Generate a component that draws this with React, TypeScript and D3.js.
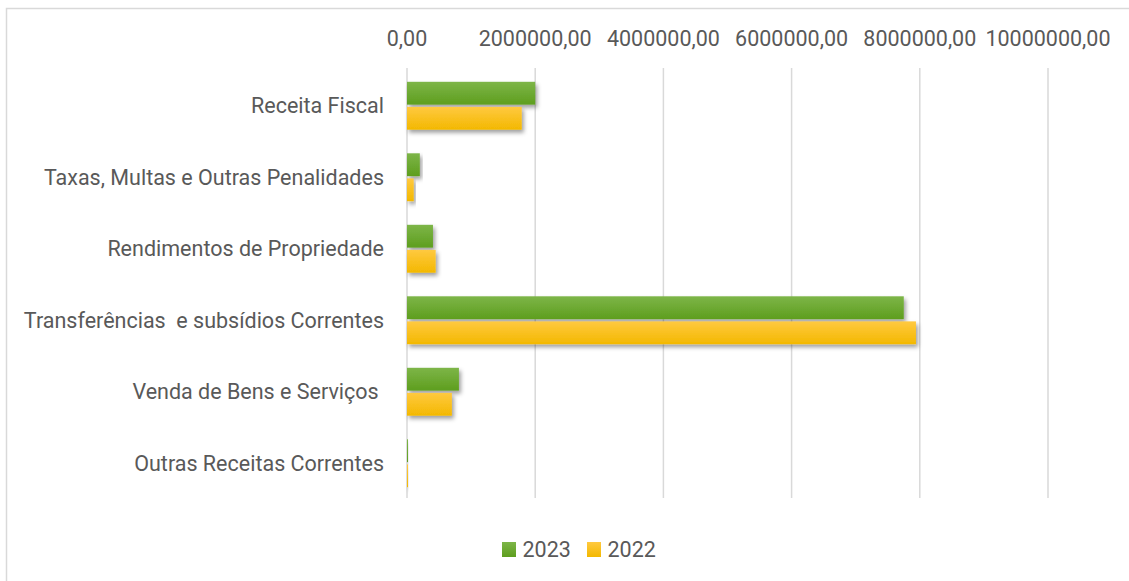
import React from "react";
import * as d3 from "d3";

const categories = [
  "Receita Fiscal",
  "Taxas, Multas e Outras Penalidades",
  "Rendimentos de Propriedade",
  "Transferências  e subsídios Correntes",
  "Venda de Bens e Serviços ",
  "Outras Receitas Correntes",
];
const series = ["2023", "2022"];
const values2023 = [2000000, 200000, 405000, 7750000, 810000, 12000];
const values2022 = [1790000, 105000, 447000, 7940000, 700000, 8000];
const xTicks = [0, 2000000, 4000000, 6000000, 8000000, 10000000];

const W = 1129;
const H = 581;

export default function App() {
  const x = d3.scaleLinear().domain([0, 10000000]).range([407, 1048]);
  const y = d3
    .scaleBand<string>()
    .domain(categories)
    .range([70, 499])
    .paddingInner(0.33)
    .paddingOuter(0.165);
  const sub = d3.scaleBand<string>().domain(series).range([0, y.bandwidth()]).paddingInner(0.09);
  const data = [values2023, values2022];
  const grads = ["gGreen", "gYellow"];
  const font = "Roboto, 'Open Sans', sans-serif";
  const fs = 21.5;
  const fmt = (v: number) => v.toFixed(2).replace(".", ",");

  return (
    <svg
      width={W}
      height={H}
      style={{ position: "absolute", left: 0, top: 0, background: "#fff" }}
      fontFamily={font}
    >
      <defs>
        <linearGradient id="gGreen" x1="0" y1="0" x2="0" y2="1">
          <stop offset="0" stopColor="#7db548" />
          <stop offset="1" stopColor="#5e9e1e" />
        </linearGradient>
        <linearGradient id="gYellow" x1="0" y1="0" x2="0" y2="1">
          <stop offset="0" stopColor="#ffc940" />
          <stop offset="1" stopColor="#f3b800" />
        </linearGradient>
        <filter id="shadow" x="-10%" y="-30%" width="130%" height="180%">
          <feDropShadow dx="2" dy="3" stdDeviation="2.2" floodColor="#000" floodOpacity="0.38" />
        </filter>
      </defs>
      <rect x={6.5} y={8.5} width={W + 10} height={H + 10} fill="#fff" stroke="#d9d9d9" strokeWidth={1.5} />
      {xTicks.map((t) => (
        <g key={t}>
          <line x1={x(t)} x2={x(t)} y1={68} y2={498} stroke="#d9d9d9" strokeWidth={1.5} />
          <text x={x(t)} y={46} textAnchor="middle" fontSize={fs} fill="#595959">
            {fmt(t)}
          </text>
        </g>
      ))}
      {categories.map((c, i) => (
        <g key={c}>
          <text
            x={384}
            y={(y(c) as number) + y.bandwidth() / 2}
            dy="0.35em"
            textAnchor="end"
            fontSize={fs}
            fill="#595959"
            style={{ whiteSpace: "pre" }}
          >
            {c}
          </text>
          {series.map((s, j) => (
            <rect
              key={s}
              x={x(0)}
              y={(y(c) as number) + (sub(s) as number)}
              width={Math.max(1, x(data[j][i]) - x(0))}
              height={sub.bandwidth()}
              fill={`url(#${grads[j]})`}
              filter="url(#shadow)"
            />
          ))}
        </g>
      ))}
      <g>
        <rect x={502} y={542} width={14} height={15} fill="url(#gGreen)" />
        <text x={522.5} y={557} fontSize={fs} fill="#595959">2023</text>
        <rect x={587} y={542} width={14} height={15} fill="url(#gYellow)" />
        <text x={607.5} y={557} fontSize={fs} fill="#595959">2022</text>
      </g>
    </svg>
  );
}
